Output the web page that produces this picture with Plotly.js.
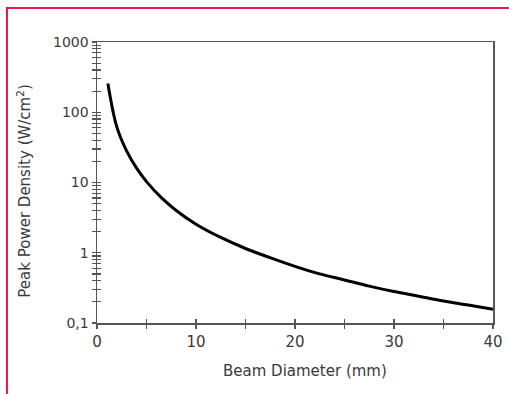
<!DOCTYPE html>
<html><head><meta charset="utf-8">
<script src="https://cdn.plot.ly/plotly-3.0.1.min.js"></script>
<style>
html,body{margin:0;padding:0;background:#fff;}
#wrap{position:relative;width:509px;height:394px;overflow:hidden;}
#chart{position:absolute;left:0;top:0;width:509px;height:394px;}
#frame{position:absolute;left:6px;top:7px;width:520px;height:400px;border-top:2px solid #e8194c;border-left:2px solid #e8194c;pointer-events:none;}
</style></head>
<body><div id="wrap"><div id="chart"></div><div id="frame"></div></div>
<script>
const beamDiameter = [1.1, 2, 3, 4, 5, 6.5, 8, 10, 12.5, 15, 17.5, 20, 22.5, 25, 27.5, 30, 32.5, 35, 37.5, 40];
const powerDensity = [257, 62, 28, 16, 10.3, 6.1, 4.0, 2.55, 1.65, 1.15, 0.85, 0.64, 0.5, 0.41, 0.335, 0.28, 0.24, 0.205, 0.18, 0.157];
const xTickVals = [0, 10, 20, 30, 40];
const xTickText = ['0', '10', '20', '30', '40'];
const yTickVals = [0.1, 1, 10, 100, 1000];
const yTickText = ['0,1', '1', '10', '100', '1000'];
const xTitle = 'Beam Diameter (mm)';
const yTitle = 'Peak Power Density (W/cm<sup>2</sup>)';

const font = {family: 'DejaVu Sans, sans-serif', size: 14, color: '#3a3a3a'};
const axisCol = '#555';
const baseX = {range: [0, 40], tickmode: 'array', tickvals: xTickVals, ticktext: xTickText, showgrid: false, zeroline: false, showline: true, linecolor: axisCol, linewidth: 1.5, tickcolor: axisCol, tickwidth: 1.2, ticklen: 4, fixedrange: true};
const baseY = {type: 'log', range: [-1, 3], tickmode: 'array', tickvals: yTickVals, ticktext: yTickText, showgrid: false, zeroline: false, showline: true, linecolor: axisCol, linewidth: 1.5, tickcolor: axisCol, tickwidth: 1.2, ticklen: 4, fixedrange: true};

const data = [
  {x: beamDiameter, y: powerDensity, type: 'scatter', mode: 'lines', line: {color: '#000', width: 3, shape: 'spline', smoothing: 1}, hoverinfo: 'skip'},
  {x: beamDiameter, y: powerDensity, xaxis: 'x2', yaxis: 'y2', type: 'scatter', mode: 'none', hoverinfo: 'skip', showlegend: false}
];
const layout = {
  width: 509, height: 394,
  margin: {l: 97, r: 16, t: 42, b: 71},
  paper_bgcolor: '#fff', plot_bgcolor: '#fff',
  showlegend: false, font: font,
  xaxis: Object.assign({}, baseX, {ticks: 'outside', mirror: true, tickfont: {size: 15},
    minor: {ticks: 'outside', ticklen: 4, tickwidth: 1.2, tickcolor: axisCol, dtick: 5, tick0: 0, showgrid: false}}),
  yaxis: Object.assign({}, baseY, {ticks: 'outside', mirror: true, tickfont: {size: 14},
    minor: {ticks: 'outside', ticklen: 4, tickwidth: 1.2, tickcolor: axisCol, dtick: 'D1', showgrid: false}}),
  xaxis2: Object.assign({}, baseX, {ticks: 'inside', overlaying: 'x', showticklabels: false,
    minor: {ticks: 'inside', ticklen: 4, tickwidth: 1.2, tickcolor: axisCol, dtick: 5, tick0: 0, showgrid: false}}),
  yaxis2: Object.assign({}, baseY, {ticks: 'inside', overlaying: 'y', showticklabels: false,
    minor: {ticks: 'inside', ticklen: 4, tickwidth: 1.2, tickcolor: axisCol, dtick: 'D1', showgrid: false}}),
  annotations: [
    {text: xTitle, xref: 'paper', yref: 'paper', x: 0.525, y: -0.17, xanchor: 'center', yanchor: 'middle', showarrow: false, font: {size: 15, color: '#3a3a3a'}},
    {text: yTitle, xref: 'paper', yref: 'paper', x: -0.185, y: 0.47, xanchor: 'center', yanchor: 'middle', textangle: -90, showarrow: false, font: {size: 15, color: '#3a3a3a'}}
  ]
};
Plotly.newPlot('chart', data, layout, {displayModeBar: false, staticPlot: true});
</script></body></html>
